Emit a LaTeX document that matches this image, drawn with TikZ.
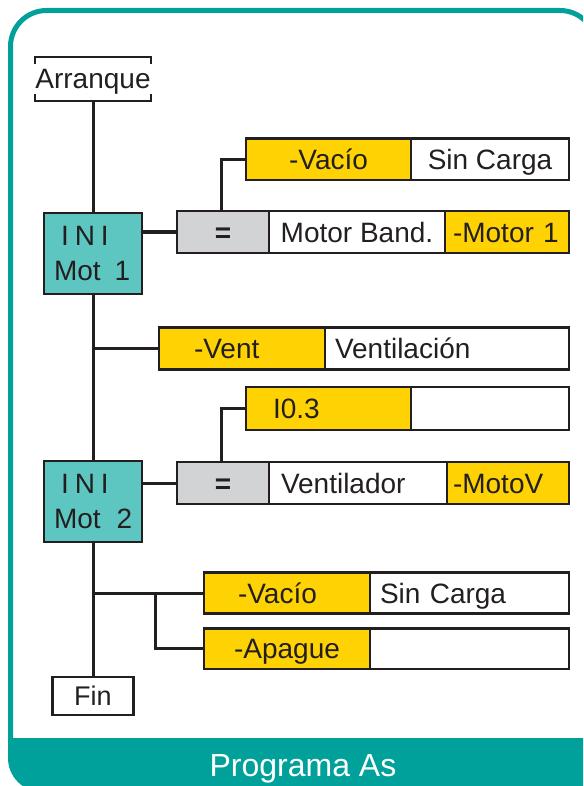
\documentclass[tikz,border=0pt]{standalone}
\usepackage{fontspec}
\setmainfont{Liberation Sans}
\definecolor{frameteal}{HTML}{00A19A}
\definecolor{boxteal}{HTML}{5EC6C1}
\definecolor{yel}{HTML}{FFD204}
\definecolor{gry}{HTML}{D1D3D4}
\definecolor{dark}{HTML}{231F20}
\tikzset{
  cell/.style={draw=dark, line width=2.2pt, minimum height=42pt, inner sep=0pt,
    text height=20pt, text depth=0pt, font=\fontsize{28}{30}\selectfont, text=dark},
  ycell/.style={cell, fill=yel},
  wcell/.style={cell, fill=white},
  gcell/.style={cell, fill=gry, font=\fontsize{28}{30}\selectfont\bfseries},
  lefttext/.style 2 args={inner xsep=#1, text width=#2, align=left},
  ini/.style={draw=dark, line width=2.2pt, fill=boxteal, minimum width=98pt, minimum height=81pt,
    inner xsep=10pt, inner ysep=0pt, text width=78pt, align=left,
    font=\fontsize{28}{35}\selectfont, text=dark},
  conn/.style={draw=dark, line width=3pt},
  bracket/.style={draw=dark, line width=2.2pt},
}
\begin{document}
\begin{tikzpicture}[x=1pt,y=-1pt]
\useasboundingbox (0,0) rectangle (583,786);
\clip (0,0) rectangle (583,786);
\fill[white] (0,0) rectangle (583,786);
% frame
\begin{scope}
  \clip (0,0) rectangle (583,745);
  \draw[frameteal, line width=5pt, rounded corners=36pt] (10.5,10.5) rectangle (596,800);
\end{scope}
\begin{scope}
  \clip (0,738) rectangle (583,786);
  \fill[frameteal, rounded corners=34pt] (8,8) rectangle (610,792);
\end{scope}
\node[text=white, font=\fontsize{32}{34}\selectfont, inner sep=0pt, text height=23pt, text depth=0pt] (title) at (303,765.2) {Programa As};

% start / end
\node[inner sep=0pt, minimum width=101pt, minimum height=44pt, text height=20pt, text depth=0pt,
  font=\fontsize{28}{30}\selectfont, text=dark] (arr) at (93,79) {Arranque};
\draw[bracket] ([yshift=-7pt]arr.north west) -- (arr.north west) -- (arr.north east) -- ([yshift=-7pt]arr.north east);
\draw[bracket] ([yshift=7pt]arr.south west) -- (arr.south west) -- (arr.south east) -- ([yshift=7pt]arr.south east);

\node[ini] (ini1) at (93,253.5) {\mbox{\hspace*{7pt}I\kern6pt N\kern6pt I}\\\mbox{Mot\hspace{14pt}1}};
\node[ini] (ini2) at (93,501.3) {\mbox{\hspace*{7pt}I\kern6pt N\kern6pt I}\\\mbox{Mot\hspace{16pt}2}};
\node[draw=dark, line width=2.2pt, fill=white, minimum width=81pt, minimum height=38pt, inner sep=0pt,
  text height=19pt, text depth=0pt, font=\fontsize{27}{29}\selectfont, text=dark] (fin) at (93,696) {Fin};

% row A
\node[ycell, minimum width=165pt, minimum height=41.5pt] (vac1) at (328.5,159.25) {-Vacío};
\node[wcell, minimum width=158pt, minimum height=41.5pt] (sc1) at (490,159.25) {Sin Carga};
% row B
\node[gcell, minimum width=92pt] (eq1) at (223,232) {=};
\node[wcell, minimum width=176pt] (mb) at (357,232) {Motor Band.};
\node[ycell, lefttext={8pt}{108pt}] (m1) at (507,232) {-Motor 1};
% row C
\node[ycell, lefttext={35pt}{96pt}] (vent) at (242,348.5) {-Vent};
\node[wcell, lefttext={10pt}{224pt}] (ventn) at (447,348.5) {Ventilación};
% row D
\node[ycell, lefttext={27pt}{111pt}, minimum height=43pt] (i03) at (328.5,408.5) {I0.3};
\node[wcell, minimum width=158pt, minimum height=43pt] (bl1) at (490,408.5) {};
% row E
\node[gcell, minimum width=92pt] (eq2) at (223,483) {=};
\node[wcell, lefttext={12pt}{154pt}] (vl) at (358,483) {Ventilador};
\node[ycell, lefttext={6pt}{110pt}] (mv) at (508,483) {-MotoV};
% row F
\node[ycell, lefttext={34pt}{98pt}, minimum height=41pt] (vac2) at (287,593) {-Vacío};
\node[wcell, lefttext={10pt}{179pt}, minimum height=41pt] (sc2) at (469.5,593) {Sin Carga};
% row G
\node[ycell, minimum width=166pt, minimum height=40.5pt] (apg) at (287,648.75) {-Apague};
\node[wcell, minimum width=199pt, minimum height=40.5pt] (bl2) at (469.5,648.75) {};

% connectors
\draw[conn] (arr.south) -- (ini1.north);
\draw[conn] (ini1.south) -- (ini2.north);
\draw[conn] (ini2.south) -- (fin.north);
\draw[conn] (ini1.east |- eq1.west) -- (eq1.west);
\draw[conn] ([xshift=-2pt]eq1.north) |- (vac1.west);
\draw[conn] (ini1.south |- vent.west) -- (vent.west);
\draw[conn] (ini2.east |- eq2.west) -- (eq2.west);
\draw[conn] ([xshift=-2pt]eq2.north) |- (i03.west);
\draw[conn] (ini2.south |- vac2.west) -- (vac2.west);
\coordinate (br) at (155,593);
\draw[conn] (br) |- (apg.west);
\end{tikzpicture}
\end{document}
